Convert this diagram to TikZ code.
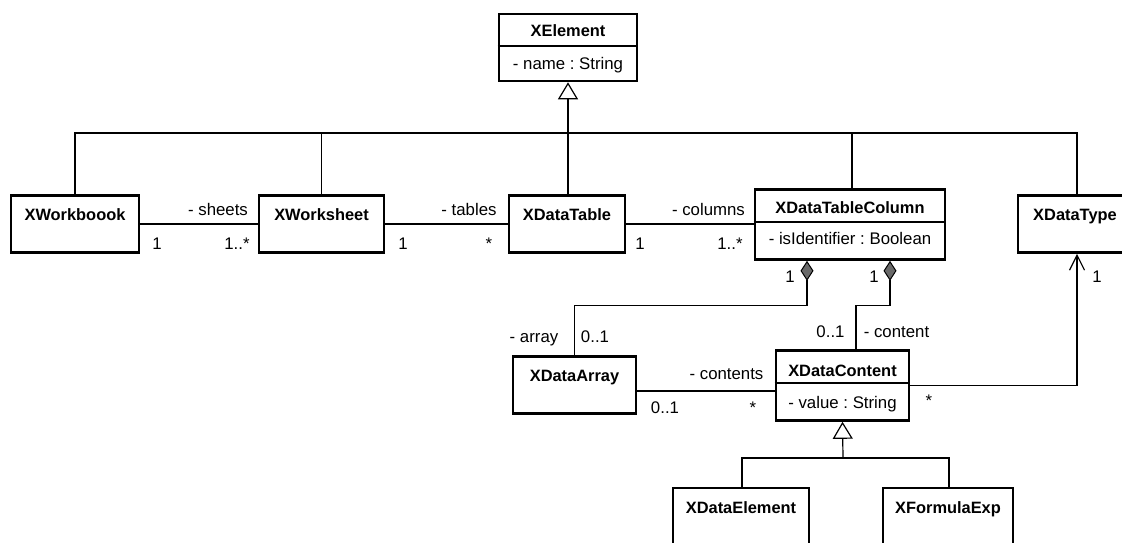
\documentclass[tikz,border=0pt]{standalone}
\usepackage{fontspec}
\setmainfont{Liberation Sans}
\frenchspacing
\usetikzlibrary{arrows.meta,calc}
\definecolor{diam}{RGB}{105,105,105}
\tikzset{
  cls/.style={draw, line width=2.6pt, fill=white, inner sep=0pt},
  ttl/.style={font=\fontsize{16.4}{18}\selectfont\bfseries, inner sep=0pt, anchor=base},
  attr/.style={font=\fontsize{16.8}{18}\selectfont\frenchspacing, inner sep=0pt, anchor=base},
  lbl/.style={font=\fontsize{16.8}{18}\selectfont, inner sep=0pt, anchor=base},
  conn/.style={line width=1.2pt},
  divider/.style={line width=1.2pt},
  gen/.style={conn, -{Triangle[open, length=17pt, width=20pt, line width=1.2pt]}},
  comp/.style={conn, {Diamond[length=20pt, width=13pt, fill=diam, line width=1pt]}-},
  nav/.style={conn, -{Straight Barb[length=15pt, width=15pt, line width=1.2pt]}}
}
\begin{document}
\begin{tikzpicture}[x=1pt, y=-1pt]
\useasboundingbox (0,0) rectangle (1122,542);
\clip (0,0) rectangle (1122,542);
% classes
\node[cls, minimum width=138, minimum height=67] (xel) at (568,47.5) {};
\node[ttl] at (568,36) {XElement};
\draw[divider] (xel.west |- 0,46) -- (xel.east |- 0,46);
\node[attr] at (568,69) {- name : String};

\node[cls, minimum width=128, minimum height=57] (wb) at (75,224) {};
\node[ttl] at (75,220) {XWorkboook};
\node[cls, minimum width=125, minimum height=57] (ws) at (321.5,224) {};
\node[ttl] at (321.5,220) {XWorksheet};
\node[cls, minimum width=116, minimum height=57] (tab) at (567,224) {};
\node[ttl] at (567,220) {XDataTable};
\node[cls, minimum width=190, minimum height=70] (col) at (850,224.5) {};
\node[ttl] at (850,213) {XDataTableColumn};
\draw[divider] (col.west |- 0,222) -- (col.east |- 0,222);
\node[attr] at (850,244) {- isIdentifier : Boolean};
\node[cls, minimum width=114, minimum height=57] (typ) at (1075,224) {};
\node[ttl] at (1075,220) {XDataType};

\node[cls, minimum width=123, minimum height=57] (arr) at (574.5,385) {};
\node[ttl] at (574.5,381) {XDataArray};
\node[cls, minimum width=133, minimum height=70] (con) at (842.5,385.5) {};
\node[ttl] at (842.5,376) {XDataContent};
\draw[divider] (con.west |- 0,383) -- (con.east |- 0,383);
\node[attr] at (842.5,408) {- value : String};

\node[cls, minimum width=136, minimum height=60] (del) at (741,518) {};
\node[ttl] at (741,513) {XDataElement};
\node[cls, minimum width=130, minimum height=60] (fex) at (948,518) {};
\node[ttl] at (948,513) {XFormulaExp};

% generalization (top)
\coordinate (j1) at (568,133);
\draw[conn] (wb.north) |- (j1);
\draw[conn] (ws.north) |- (j1);
\draw[conn] ([xshift=1]tab.north) |- (j1);
\draw[conn] ([xshift=2]col.north) |- (j1);
\draw[conn] ([xshift=2]typ.north) |- (j1);
\draw[gen] (j1) -- (xel.south);

% generalization (bottom)
\coordinate (j2) at (843,458);
\draw[conn] ([xshift=1]del.north) |- (j2);
\draw[conn] ([xshift=1]fex.north) |- (j2);
\draw[gen] (j2) -- (con.south);

% associations
\draw[conn] (wb.east) -- (ws.west);
\node[lbl] at (218,215) {- sheets};
\node[lbl] at (157,249) {1};
\node[lbl] at (237,249) {1..*};

\draw[conn] (ws.east) -- (tab.west);
\node[lbl] at (469,215) {- tables};
\node[lbl] at (403,249) {1};
\node[lbl] at (489,249) {*};

\draw[conn] (tab.east) -- (tab.east -| col.west);
\node[lbl] at (708.5,215) {- columns};
\node[lbl] at (640,249) {1};
\node[lbl] at (730,249) {1..*};

% compositions
\draw[comp] ([xshift=-43]col.south) -- ++(0,44.5) -| (arr.north);
\node[lbl] at (790,282) {1};
\node[lbl] at (534,342) {- array};
\node[lbl] at (595,342) {0..1};

\draw[comp] ([xshift=40]col.south) -- ++(0,44.5) -| ([xshift=13.5]con.north);
\node[lbl] at (874,282) {1};
\node[lbl] at (830.5,337) {0..1};
\node[lbl] at (896.5,337) {- content};

% array - content
\draw[conn] ([yshift=-6]arr.east) -- ([yshift=-6]arr.east -| con.west);
\node[lbl] at (726.5,379) {- contents};
\node[lbl] at (665,413) {0..1};
\node[lbl] at (753,413) {*};

% content - type
\draw[nav] (con.east) -| ([xshift=2]typ.south);
\node[lbl] at (1097,282) {1};
\node[lbl] at (929,406) {*};
\end{tikzpicture}
\end{document}
